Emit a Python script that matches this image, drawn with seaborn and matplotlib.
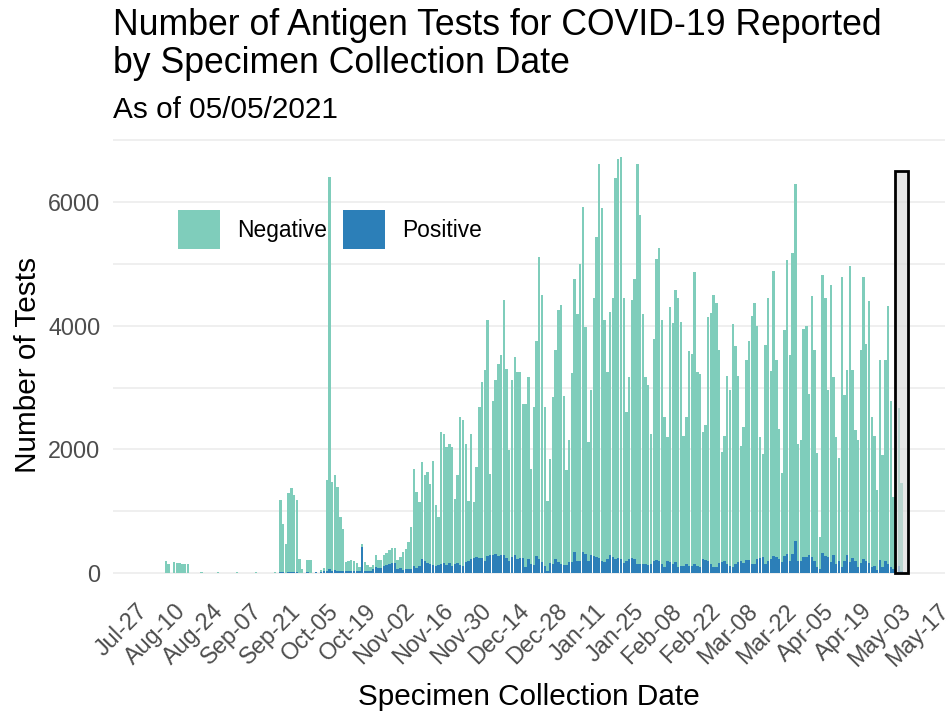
#!/usr/bin/env python
# -*- coding: utf-8 -*-

"""
Antigen tests for COVID-19 by specimen collection date - stacked daily bars
"""

import numpy as np
import pandas as pd
import matplotlib
matplotlib.use("Agg")
import matplotlib.pyplot as plt
import matplotlib.dates as mdates
import matplotlib.transforms as mtransforms
from matplotlib.patches import Patch, Rectangle
import seaborn as sns

# ---- data (daily totals = negative + positive) ----
FIRST_DAY = "2020-08-07"

# Aug 07 - Sep 17
totals_aug_sep = [200, 150, 0, 175, 165, 170, 155, 150, 150,
                  0, 0, 0, 0, 15, 0, 0, 0, 0, 0, 15, 0, 0, 0, 0, 0,
                  0, 15, 0, 0, 0, 0, 0, 0, 15, 0, 0, 0, 0, 0, 0, 15, 0]
positives_aug_sep = [0] * 42

# Sep 18 - Nov 01
totals_sep_nov = [1180, 800, 480, 1290, 1370, 1260, 1180, 237, 60, 0,
                  210, 210, 0, 20, 10, 50, 80, 1500, 6400, 1480,
                  1585, 1400, 910, 720, 180, 200, 210, 190, 160, 100,
                  480, 180, 130, 100, 130, 290, 220, 220, 300, 320,
                  370, 400, 400, 210, 260]
positives_sep_nov = [20, 15, 10, 20, 25, 25, 20, 10, 5, 0,
                     15, 10, 0, 20, 5, 20, 30, 40, 60, 40,
                     45, 40, 30, 30, 30, 40, 35, 40, 30, 30,
                     430, 40, 30, 30, 60, 100, 80, 80, 120, 130,
                     150, 160, 170, 70, 90]

# Nov 02 - Dec 16
totals_nov_dec = [340, 395, 500, 745, 1690, 1310, 1150, 1795, 1580, 1630,
                  1445, 1820, 1095, 905, 2280, 2250, 2040, 2090, 2040, 1200,
                  1580, 2520, 2470, 2090, 1175, 2250, 1150, 1715, 2685, 3090,
                  3280, 4085, 1605, 2790, 3115, 3385, 3520, 4410, 3300, 1990,
                  3115, 3500, 3250, 3250, 2735]
positives_nov_dec = [50, 60, 60, 70, 110, 90, 120, 230, 200, 160,
                     150, 130, 120, 140, 150, 160, 130, 160, 120, 150,
                     170, 140, 120, 180, 190, 230, 250, 260, 240, 250,
                     200, 280, 290, 300, 310, 280, 290, 300, 250, 200,
                     260, 300, 230, 250, 240]

# Dec 17 - Feb 01
totals_dec_feb = [2740, 3170, 1690, 2685, 3760, 5110, 4490, 2685, 1175, 1850,
                  2850, 3600, 4250, 4330, 2870, 1660, 2145, 3230, 4760, 4190,
                  5000, 5920, 3980, 2120, 2960, 4440, 5430, 6620, 5900, 4085,
                  3250, 4220, 4440, 6380, 6700, 6730, 4440, 2600, 3170, 4410,
                  4760, 6620, 5790, 4190, 3170, 3040, 2250]
positives_dec_feb = [97, 230, 150, 125, 285, 230, 180, 110, 30, 160,
                     150, 230, 180, 150, 125, 125, 180, 180, 340, 195,
                     205, 340, 310, 205, 300, 285, 260, 250, 195, 180,
                     230, 300, 260, 230, 250, 230, 160, 195, 230, 250,
                     230, 150, 150, 150, 150, 140, 150]

# Feb 02 - Mar 19
totals_feb_mar = [3790, 5080, 5250, 4085, 2520, 2200, 4300, 4040, 4580, 4440,
                  4060, 2210, 2530, 3590, 3550, 4870, 3255, 3225, 2280, 2390,
                  4140, 4200, 4495, 4370, 3615, 1955, 2225, 3185, 2960, 4020,
                  3670, 3185, 2050, 2370, 3450, 3750, 4160, 4370, 3990, 2200,
                  1920, 3690, 4445, 3265, 4890, 3440]
positives_feb_mar = [205, 215, 205, 150, 97, 195, 180, 150, 180, 108,
                     124, 124, 150, 124, 124, 150, 124, 97, 232, 215,
                     195, 150, 108, 97, 162, 180, 205, 150, 124, 108,
                     150, 180, 195, 162, 215, 215, 150, 150, 232, 248,
                     270, 150, 195, 232, 285, 260]

# Mar 20 - May 05
totals_mar_may = [2335, 1615, 3925, 5055, 3525, 5180, 6285, 2090, 2155, 3940,
                  3990, 2900, 4480, 3615, 1945, 580, 4815, 4440, 2965, 4655,
                  3175, 2200, 1865, 4780, 2875, 3290, 4970, 3290, 2320, 2145,
                  3600, 4780, 3700, 4405, 2520, 2210, 1340, 3440, 1915, 3440,
                  4320, 2780, 1230, 2210, 2670, 1455, 20]
positives_mar_may = [232, 178, 285, 312, 205, 312, 517, 205, 205, 259,
                     270, 302, 259, 194, 108, 60, 323, 285, 259, 178,
                     302, 150, 194, 97, 194, 302, 178, 248, 194, 97,
                     162, 232, 194, 162, 108, 124, 54, 215, 97, 194,
                     150, 108, 70, 162, 124, 40, 5]

result_levels = ["Negative", "Positive"]
result_colors = {"Negative": "#7fcdbb", "Positive": "#2c7fb8"}

tick_dates = pd.date_range("2020-07-27", "2021-05-17", freq="14D")
y_ticks = [0, 2000, 4000, 6000]

# incomplete-data window highlighted at the end
box_start, box_end, box_top = "2021-05-02", "2021-05-06", 6500


def build_frame():
    totals = (totals_aug_sep + totals_sep_nov + totals_nov_dec
              + totals_dec_feb + totals_feb_mar + totals_mar_may)
    positives = (positives_aug_sep + positives_sep_nov + positives_nov_dec
                 + positives_dec_feb + positives_feb_mar + positives_mar_may)
    assert len(totals) == len(positives)
    dates = pd.date_range(FIRST_DAY, periods=len(totals), freq="D")
    day = mdates.date2num(dates)
    neg = np.asarray(totals) - np.asarray(positives)
    df = pd.concat([
        pd.DataFrame({"day": day, "tests": neg, "result": "Negative"}),
        pd.DataFrame({"day": day, "tests": positives, "result": "Positive"}),
    ], ignore_index=True)
    return df


if __name__ == "__main__":
    df = build_frame()

    sns.set_style("white")
    plt.rcParams["font.family"] = ["Liberation Sans", "DejaVu Sans"]

    W, H = 951, 715
    fig = plt.figure(figsize=(W / 100, H / 100), dpi=100)
    ax = fig.add_axes([113 / W, 1 - 594 / H, 832 / W, 458 / H])

    sns.histplot(data=df, x="day", weights="tests", hue="result",
                 hue_order=result_levels, palette=result_colors,
                 multiple="stack", discrete=True, shrink=0.88,
                 alpha=1, linewidth=0, edgecolor="none",
                 legend=False, ax=ax)

    # highlight box for the most recent days
    x0 = mdates.date2num(pd.Timestamp(box_start)) - 0.35
    x1 = mdates.date2num(pd.Timestamp(box_end)) + 0.35
    ax.add_patch(Rectangle((x0, 0), x1 - x0, box_top,
                           facecolor=(0.85, 0.85, 0.85, 0.65),
                           edgecolor="black", linewidth=2.0, zorder=5))

    # axes limits, grid and ticks
    jul27 = mdates.date2num(pd.Timestamp("2020-07-27"))
    ax.set_xlim(jul27 - 8.44, jul27 + 296.9)
    ax.set_ylim(-336, 7066)
    ax.set_yticks(y_ticks)
    ax.set_yticks([1000, 3000, 5000, 7000], minor=True)
    ax.set_yticklabels([str(v) for v in y_ticks])
    ax.set_xticks(mdates.date2num(tick_dates))
    ax.set_xticklabels([d.strftime("%b-%d") for d in tick_dates],
                       rotation=45, ha="right", rotation_mode="anchor")
    # ggplot puts the rotated labels a little right of / below the tick
    shift = mtransforms.ScaledTranslation(6 / 100, -3 / 100, fig.dpi_scale_trans)
    for lab in ax.get_xticklabels():
        lab.set_transform(lab.get_transform() + shift)
    ax.grid(axis="y", which="both", color="#ebebeb", linewidth=1.1)
    ax.grid(axis="x", visible=False)
    ax.set_axisbelow(True)
    for s in ax.spines.values():
        s.set_visible(False)
    ax.tick_params(axis="both", which="both", length=0,
                   labelsize=16.8, labelcolor="#4d4d4d")
    ax.tick_params(axis="y", pad=9)
    ax.tick_params(axis="x", pad=4)
    ax.set_xlabel("")
    ax.set_ylabel("")

    # legend in the upper left of the panel
    handles = [Patch(facecolor=result_colors[r], edgecolor="none") for r in result_levels]
    ax.legend(handles, result_levels, ncol=2, frameon=False,
              loc="center left", bbox_to_anchor=(0.078, 0.796),
              borderaxespad=0, borderpad=0, fontsize=16.4,
              handlelength=1.84, handleheight=2.2,
              handletextpad=0.75, columnspacing=0.7, labelcolor="black")

    # titles
    fig.text(113 / W, 1 - 35 / H, "Number of Antigen Tests for COVID-19 Reported",
             fontsize=25.7, va="baseline", ha="left", color="black")
    fig.text(113 / W, 1 - 73 / H, "by Specimen Collection Date",
             fontsize=25.7, va="baseline", ha="left", color="black")
    fig.text(113 / W, 1 - 118 / H, "As of 05/05/2021",
             fontsize=21.4, va="baseline", ha="left", color="black")
    fig.text(529 / W, 1 - 705 / H, "Specimen Collection Date",
             fontsize=21.4, va="baseline", ha="center", color="black")
    fig.text(28 / W, 1 - 365 / H, "Number of Tests", rotation=90,
             fontsize=21.4, va="center", ha="center", color="black")

    fig.savefig("out.png", dpi=100)
    plt.close(fig)
